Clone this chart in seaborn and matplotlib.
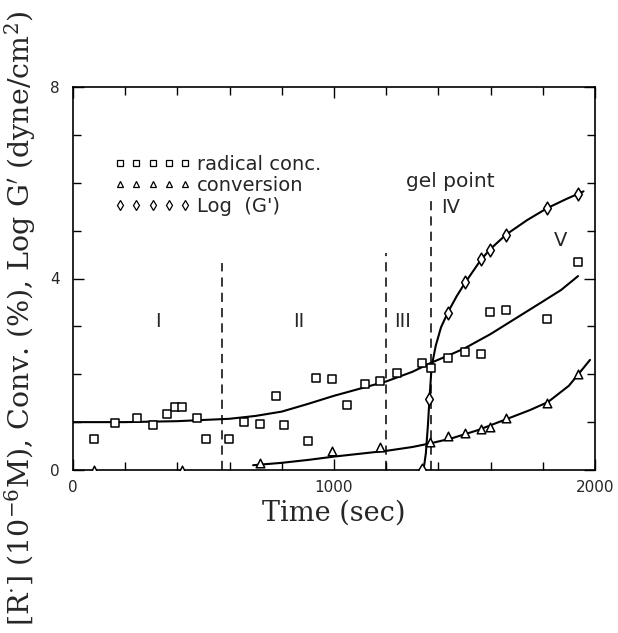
import numpy as np
import pandas as pd
import matplotlib
matplotlib.use("Agg")
import matplotlib.pyplot as plt
import seaborn as sns
from matplotlib.lines import Line2D

# ---- data ----
rad_t = [82, 162, 247, 306, 361, 390, 419, 477, 509, 598, 656, 717, 779, 809, 899,
         930, 991, 1050, 1117, 1178, 1242, 1338, 1371, 1435, 1500, 1564, 1597, 1660,
         1817, 1935]
rad_v = [0.64, 0.99, 1.09, 0.95, 1.16, 1.31, 1.32, 1.09, 0.64, 0.64, 1.01, 0.97, 1.55,
         0.95, 0.60, 1.93, 1.91, 1.35, 1.79, 1.86, 2.02, 2.24, 2.14, 2.34, 2.47, 2.43,
         3.29, 3.35, 3.16, 4.35]

conv_t = [82, 419, 717, 991, 1178, 1369, 1435, 1500, 1564, 1597, 1660, 1817, 1935]
conv_v = [0.0, 0.0, 0.15, 0.39, 0.48, 0.58, 0.70, 0.77, 0.85, 0.90, 1.09, 1.39, 2.00]

logg_t = [1338, 1365, 1437, 1501, 1564, 1597, 1660, 1817, 1935]
logg_v = [0.0, 1.48, 3.27, 3.92, 4.41, 4.60, 4.91, 5.47, 5.77]

# fitted curves as drawn in the picture
rad_fit_t = [0, 200, 400, 600, 700, 800, 900, 1000, 1100, 1200, 1300, 1372, 1450, 1500,
             1600, 1700, 1800, 1870, 1935]
rad_fit_v = [1.0, 1.0, 1.02, 1.07, 1.13, 1.22, 1.38, 1.55, 1.70, 1.85, 2.05, 2.24, 2.42,
             2.54, 2.84, 3.18, 3.52, 3.76, 4.05]

conv_fit_t = [690, 800, 900, 1000, 1100, 1200, 1300, 1372, 1450, 1550, 1650, 1750, 1820,
              1900, 1981]
conv_fit_v = [0.10, 0.15, 0.21, 0.28, 0.34, 0.40, 0.48, 0.56, 0.66, 0.83, 1.04, 1.25,
              1.42, 1.76, 2.30]

logg_fit_t = [1343, 1352, 1360, 1366, 1374, 1390, 1410, 1437, 1470, 1501, 1564, 1600,
              1660, 1740, 1817, 1890, 1956]
logg_fit_v = [0.0, 0.35, 0.95, 1.50, 2.16, 2.60, 2.98, 3.30, 3.63, 3.90, 4.40, 4.62,
              4.92, 5.22, 5.47, 5.66, 5.82]

region_bounds = [570, 1200, 1372]
region_tops = [4.33, 4.54, 5.66]

region_labels = ["I", "II", "III", "IV", "V"]
region_lab_t = [325, 866, 1264, 1448, 1867]
region_lab_v = [3.1, 3.1, 3.1, 5.49, 4.79]

legend_labels = ["radical conc.", "conversion", "Log  (G')"]

x_ticklabels = ["0", "1000", "2000"]
y_ticklabels = ["0", "4", "8"]

# ---- plotting ----
sns.set_style("ticks")
plt.rcParams["font.family"] = ["DejaVu Sans"]
plt.rcParams["mathtext.fontset"] = "dejavuserif"

fig = plt.figure(figsize=(6.18, 6.33), dpi=100)
W, H = 618, 633
left, right, top, bottom = 73, 595, 87, 470
ax = fig.add_axes([left / W, 1 - bottom / H, (right - left) / W, (bottom - top) / H])

df_rad = pd.DataFrame({"t": rad_t, "v": rad_v})
df_conv = pd.DataFrame({"t": conv_t, "v": conv_v})
df_g = pd.DataFrame({"t": logg_t, "v": logg_v})

for fx, fy in [(rad_fit_t, rad_fit_v), (conv_fit_t, conv_fit_v), (logg_fit_t, logg_fit_v)]:
    sns.lineplot(x=fx, y=fy, ax=ax, color="black", lw=1.5, sort=False, estimator=None)

mk = dict(facecolor="white", edgecolor="black", linewidth=1.1, zorder=3)
sns.scatterplot(data=df_rad, x="t", y="v", marker="s", s=32, ax=ax, **mk)
sns.scatterplot(data=df_conv, x="t", y="v", marker="^", s=38, ax=ax, **mk)
sns.scatterplot(data=df_g, x="t", y="v", marker="d", s=42, ax=ax, **mk)

for xb, yt in zip(region_bounds, region_tops):
    ax.plot([xb, xb], [0, yt], color="black", lw=1.1, ls=(0, (6, 4)), zorder=2)

for lab, lx, ly in zip(region_labels, region_lab_t, region_lab_v):
    ax.text(lx, ly, lab, ha="center", va="center", fontsize=14)
ax.text(1445, 6.02, "gel point", ha="center", va="center", fontsize=14.5)

handles = [
    Line2D([], [], marker="s", ls="none", mfc="white", mec="black", ms=4.2, mew=0.9),
    Line2D([], [], marker="^", ls="none", mfc="white", mec="black", ms=4.4, mew=0.9),
    Line2D([], [], marker="d", ls="none", mfc="white", mec="black", ms=4.8, mew=0.9),
]
leg = ax.legend(handles, legend_labels, loc="upper left", bbox_to_anchor=(0.079, 0.822),
                frameon=False, numpoints=5, handlelength=3.95, handletextpad=0.3,
                labelspacing=0.1, fontsize=14, borderaxespad=0, borderpad=0)

ax.set_xlim(0, 2000)
ax.set_ylim(0, 8)
ax.set_xticks([0, 1000, 2000])
ax.set_xticklabels(x_ticklabels, fontsize=11)
ax.set_yticks([0, 4, 8])
ax.set_yticklabels(y_ticklabels, fontsize=11)
ax.set_xticks(np.arange(0, 2001, 200), minor=True)
ax.set_yticks(np.arange(0, 8.01, 1), minor=True)
ax.tick_params(which="both", direction="in", top=True, right=True, width=1.0, color="black")
ax.tick_params(which="major", length=8)
ax.tick_params(which="minor", length=6)
ax.tick_params(axis="x", which="major", pad=7.5)
ax.tick_params(axis="y", which="major", pad=9.5)
for sp in ax.spines.values():
    sp.set_linewidth(1.2)
    sp.set_color("black")

ax.set_xlabel("Time (sec)", fontsize=19.5, family="DejaVu Serif", labelpad=3)
ax.set_ylabel("")
fig.text(0.033, 1 - 318 / H,
         r"[R$^{\cdot}$] (10$^{-6}$M), Conv. (%), Log G$'$ (dyne/cm$^{2}$)",
         rotation=90, ha="center", va="center", fontsize=20.5, family="DejaVu Serif")

fig.savefig("out.png", dpi=100)
